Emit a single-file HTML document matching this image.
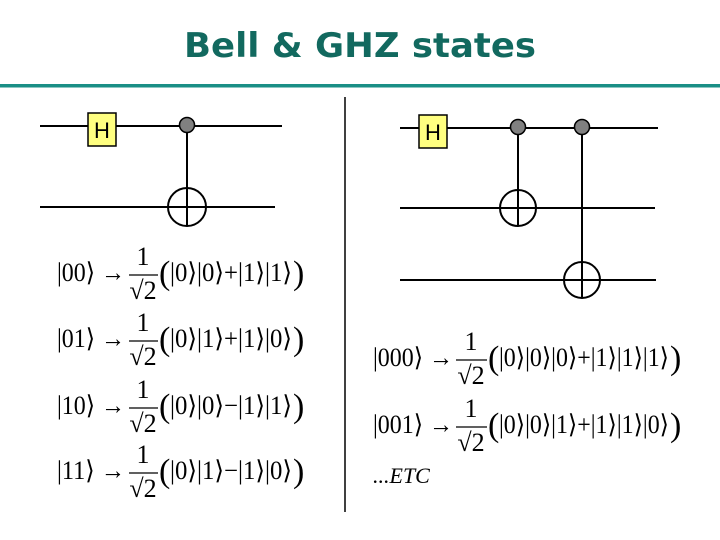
<!DOCTYPE html>
<html><head><meta charset="utf-8"><style>
html,body{margin:0;padding:0;background:#fff;width:720px;height:540px;overflow:hidden}
svg{display:block}
.t{font-family:"Liberation Serif",serif;font-size:26px;fill:#000}
.p{font-size:34px}
</style></head><body>
<svg width="720" height="540" viewBox="0 0 720 540">
<text x="360" y="57" text-anchor="middle" font-family="'Comic Sans MS','DejaVu Sans',sans-serif" font-weight="bold" font-size="34" fill="#12695f" textLength="352" lengthAdjust="spacingAndGlyphs">Bell &amp; GHZ states</text>
<rect x="0" y="84" width="720" height="3.5" fill="#1a8f86"/>
<line x1="345" y1="97" x2="345" y2="512" stroke="#000" stroke-width="1.5"/>
<g stroke="#000" stroke-width="2" fill="none">
<line x1="40" y1="126" x2="282" y2="126"/>
<line x1="40" y1="207" x2="275" y2="207"/>
<line x1="187" y1="126" x2="187" y2="226"/>
<circle cx="187" cy="207" r="19"/>
<line x1="400" y1="128" x2="658" y2="128"/>
<line x1="400" y1="208" x2="655" y2="208"/>
<line x1="400" y1="280" x2="656" y2="280"/>
<line x1="518" y1="128" x2="518" y2="226"/>
<line x1="582" y1="128" x2="582" y2="298"/>
<circle cx="518" cy="208" r="18"/>
<circle cx="582" cy="280" r="18"/>
</g>
<g fill="#808080" stroke="#000" stroke-width="1.5">
<circle cx="187" cy="125" r="7.5"/><circle cx="518" cy="127" r="7.5"/><circle cx="582" cy="127" r="7.5"/>
</g>
<g fill="#ffff80" stroke="#000" stroke-width="1.5">
<rect x="88" y="113" width="28" height="33"/><rect x="419" y="115" width="28" height="33"/>
</g>
<g font-family="'Liberation Sans',sans-serif" font-size="22" fill="#000">
<text x="102" y="138" text-anchor="middle">H</text><text x="433" y="140" text-anchor="middle">H</text>
</g>
<g class="t">
<g transform="translate(0,272)">
<text x="57" y="9" textLength="68" lengthAdjust="spacingAndGlyphs">|00⟩ →</text>
<text x="143" y="-7" text-anchor="middle">1</text><line x1="129" y1="3" x2="158" y2="3" stroke="#000" stroke-width="1.2"/><text x="143" y="27" text-anchor="middle">√2</text>
<text x="159" y="12" class="p">(</text><text x="170" y="9" textLength="122" lengthAdjust="spacingAndGlyphs">|0⟩|0⟩+|1⟩|1⟩</text><text x="293" y="12" class="p">)</text></g>
<g transform="translate(0,338)">
<text x="57" y="9" textLength="68" lengthAdjust="spacingAndGlyphs">|01⟩ →</text>
<text x="143" y="-7" text-anchor="middle">1</text><line x1="129" y1="3" x2="158" y2="3" stroke="#000" stroke-width="1.2"/><text x="143" y="27" text-anchor="middle">√2</text>
<text x="159" y="12" class="p">(</text><text x="170" y="9" textLength="122" lengthAdjust="spacingAndGlyphs">|0⟩|1⟩+|1⟩|0⟩</text><text x="293" y="12" class="p">)</text></g>
<g transform="translate(0,405)">
<text x="57" y="9" textLength="68" lengthAdjust="spacingAndGlyphs">|10⟩ →</text>
<text x="143" y="-7" text-anchor="middle">1</text><line x1="129" y1="3" x2="158" y2="3" stroke="#000" stroke-width="1.2"/><text x="143" y="27" text-anchor="middle">√2</text>
<text x="159" y="12" class="p">(</text><text x="170" y="9" textLength="122" lengthAdjust="spacingAndGlyphs">|0⟩|0⟩−|1⟩|1⟩</text><text x="293" y="12" class="p">)</text></g>
<g transform="translate(0,470)">
<text x="57" y="9" textLength="68" lengthAdjust="spacingAndGlyphs">|11⟩ →</text>
<text x="143" y="-7" text-anchor="middle">1</text><line x1="129" y1="3" x2="158" y2="3" stroke="#000" stroke-width="1.2"/><text x="143" y="27" text-anchor="middle">√2</text>
<text x="159" y="12" class="p">(</text><text x="170" y="9" textLength="122" lengthAdjust="spacingAndGlyphs">|0⟩|1⟩−|1⟩|0⟩</text><text x="293" y="12" class="p">)</text></g>
<g transform="translate(0,357)">
<text x="373" y="9" textLength="80" lengthAdjust="spacingAndGlyphs">|000⟩ →</text>
<text x="471" y="-7" text-anchor="middle">1</text><line x1="456" y1="3" x2="487" y2="3" stroke="#000" stroke-width="1.2"/><text x="471" y="27" text-anchor="middle">√2</text>
<text x="488" y="12" class="p">(</text><text x="499" y="9" textLength="170" lengthAdjust="spacingAndGlyphs">|0⟩|0⟩|0⟩+|1⟩|1⟩|1⟩</text><text x="670" y="12" class="p">)</text></g>
<g transform="translate(0,424)">
<text x="373" y="9" textLength="80" lengthAdjust="spacingAndGlyphs">|001⟩ →</text>
<text x="471" y="-7" text-anchor="middle">1</text><line x1="456" y1="3" x2="487" y2="3" stroke="#000" stroke-width="1.2"/><text x="471" y="27" text-anchor="middle">√2</text>
<text x="488" y="12" class="p">(</text><text x="499" y="9" textLength="170" lengthAdjust="spacingAndGlyphs">|0⟩|0⟩|1⟩+|1⟩|1⟩|0⟩</text><text x="670" y="12" class="p">)</text></g>
<text x="373" y="483" font-style="italic" font-size="22">...ETC</text>
</g>
</svg>
</body></html>
